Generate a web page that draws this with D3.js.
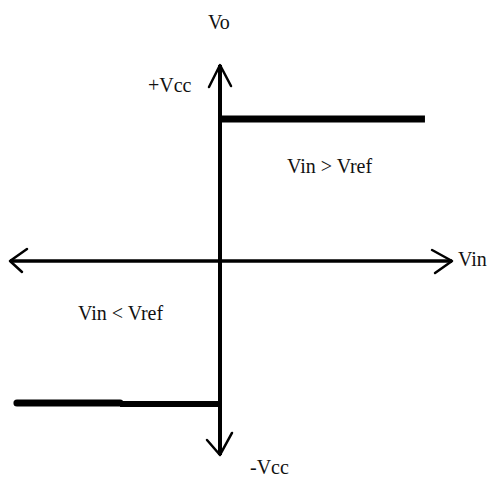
<!DOCTYPE html>
<html>
<head>
<meta charset="utf-8">
<script src="https://cdn.jsdelivr.net/npm/d3@7"></script>
<style>
  body { margin: 0; background: #fff; }
  svg text { font-family: "Liberation Serif", "Times New Roman", serif; font-size: 20px; fill: #111; }
</style>
</head>
<body>
<div class="chart"></div>
<script>
const width = 488,
    height = 479;

// comparator transfer curve (Vin normalised, Vo in units of Vcc)
const highLevel = [[0, 1], [0.976, 1]];
const lowLevelOuter = [[-0.967, -1], [-0.476, -1]];
const lowLevelInner = [[-0.476, -1], [0, -1]];
const xAxisExtent = [-1, 1.105];
const yAxisExtent = [-1.366, 1.38];

const labels = ["Vo", "+Vcc", "Vin > Vref", "Vin", "Vin < Vref", "-Vcc"];
// pixel anchors for each label (start x, baseline y)
const labelPos = [[208, 29], [148, 92], [287, 173], [458, 266], [78, 320], [250, 474]];

const x = d3.scaleLinear().domain([-1, 1]).range([10, 430]);
const y = d3.scaleLinear().domain([-1, 1]).range([403, 119]);

const svg = d3.select(".chart")
    .append("svg")
    .attr("width", width)
    .attr("height", height);

const line = d3.line()
    .x(d => x(d[0]))
    .y(d => y(d[1]));

// axes
svg.append("path")
    .attr("d", line([[xAxisExtent[0], 0], [xAxisExtent[1], 0]]))
    .attr("stroke", "#000")
    .attr("stroke-width", 3.5)
    .attr("fill", "none");

svg.append("path")
    .attr("d", line([[0, yAxisExtent[0]], [0, yAxisExtent[1]]]))
    .attr("stroke", "#000")
    .attr("stroke-width", 4)
    .attr("fill", "none");

// open arrowheads
const heads = [
    { tip: [xAxisExtent[0], 0], arms: [[17, -12], [12, 11]] },
    { tip: [xAxisExtent[1], 0], arms: [[-20, -11], [-17, 12]] },
    { tip: [0, yAxisExtent[1]], arms: [[-11, 22], [11, 21]] },
    { tip: [0, yAxisExtent[0]], arms: [[-13, -15], [12, -22]] }
];

svg.selectAll("path.head")
    .data(heads)
    .join("path")
    .attr("class", "head")
    .attr("d", d => {
        const tx = x(d.tip[0]), ty = y(d.tip[1]);
        return `M${tx + d.arms[0][0]},${ty + d.arms[0][1]}L${tx},${ty}L${tx + d.arms[1][0]},${ty + d.arms[1][1]}`;
    })
    .attr("stroke", "#000")
    .attr("stroke-width", 2.5)
    .attr("stroke-linejoin", "round")
    .attr("stroke-linecap", "round")
    .attr("fill", "none");

// output levels
svg.append("path")
    .attr("d", line(highLevel))
    .attr("stroke", "#000")
    .attr("stroke-width", 7)
    .attr("fill", "none");

svg.append("path")
    .attr("d", line(lowLevelOuter))
    .attr("stroke", "#000")
    .attr("stroke-width", 7)
    .attr("stroke-linecap", "round")
    .attr("fill", "none");

svg.append("path")
    .attr("d", line(lowLevelInner))
    .attr("transform", "translate(0,1)")
    .attr("stroke", "#000")
    .attr("stroke-width", 6)
    .attr("fill", "none");

svg.selectAll("text.lbl")
    .data(labels)
    .join("text")
    .attr("class", "lbl")
    .attr("x", (d, i) => labelPos[i][0])
    .attr("y", (d, i) => labelPos[i][1])
    .text(d => d);
</script>
</body>
</html>
